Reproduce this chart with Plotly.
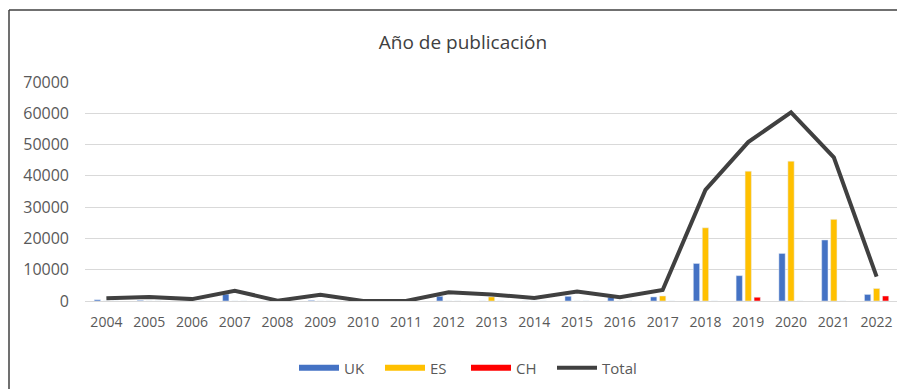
import plotly.graph_objects as go

years = [str(y) for y in range(2004, 2023)]
uk = [400, 200, 0, 2200, 0, 200, 0, 0, 1500, 0, 0, 1500, 1200, 1300, 12000, 8100, 15200, 19500, 2100]
es = [0, 0, 0, 0, 0, 0, 0, 0, 0, 1300, 0, 0, 0, 1600, 23400, 41500, 44700, 26100, 4000]
ch = [0, 0, 0, 0, 0, 0, 0, 0, 0, 0, 0, 0, 0, 0, 0, 1200, 0, 0, 1600]
total = [900, 1300, 600, 3300, 100, 2000, 0, 0, 2800, 2100, 1000, 3000, 1200, 3500, 35500, 50800, 60300, 45900, 7800]
yticks = [0, 10000, 20000, 30000, 40000, 50000, 60000, 70000]

GRAY = "#595959"
FONT = "Open Sans"
colors = {"UK": "#4472C4", "ES": "#FFC000", "CH": "#FF0000"}

fig = go.Figure()
for name, vals in [("UK", uk), ("ES", es), ("CH", ch)]:
    fig.add_trace(go.Bar(x=years, y=vals, name=name, marker_color=colors[name],
                         legendgroup=name, showlegend=False))
fig.add_trace(go.Scatter(x=years, y=total, name="Total", mode="lines",
                         line=dict(color="#404040", width=4), legendrank=1004))
# legend swatches (wide rectangles like the original)
for i, name in enumerate(["UK", "ES", "CH"]):
    fig.add_trace(go.Scatter(x=[None], y=[None], name=name, mode="lines",
                             line=dict(color=colors[name], width=6),
                             legendgroup=name, legendrank=1001 + i))

# browser body adds 8px offset; work in screenshot coordinates minus offset
OFF = 8
W, H = 905 - OFF, 389 - OFF
L, R, T, B = 85 - OFF, 7, 82 - OFF, 389 - 301
pw, ph = W - L - R, H - T - B
px = lambda v: (v - OFF - L) / pw
py = lambda v: (H - B - (v - OFF)) / ph

fig.update_layout(
    width=W, height=H,
    margin=dict(l=L, r=R, t=T, b=B, autoexpand=False),
    paper_bgcolor="white", plot_bgcolor="white",
    font=dict(family=FONT, color=GRAY, size=14),
    title=dict(text="Año de publicación", xref="container", yref="container",
               x=(463 - OFF) / W, xanchor="center", y=(H - (42 - OFF)) / H, yanchor="middle",
               font=dict(family=FONT, size=19, color="#404040")),
    barmode="group", bargap=0.37, bargroupgap=0.3,
    showlegend=True,
    legend=dict(orientation="h", x=px(466), xanchor="center", y=py(368), yanchor="middle",
                font=dict(family=FONT, size=15, color=GRAY), traceorder="normal",
                itemwidth=40, entrywidth=31),
    xaxis=dict(type="category", showgrid=False, showline=False, ticks="",
               ticklabelstandoff=11,
               tickfont=dict(family=FONT, size=14, color=GRAY)),
    yaxis=dict(range=[0, 70000], tickvals=yticks, ticktext=[str(v) for v in yticks],
               showgrid=True, gridcolor="#D9D9D9", gridwidth=1,
               zeroline=True, zerolinecolor="#D9D9D9", zerolinewidth=1,
               showline=False, ticks="", ticklabelstandoff=15,
               tickfont=dict(family=FONT, size=16, color=GRAY)),
    shapes=[
        dict(type="line", xref="paper", yref="paper", x0=px(9), x1=px(9), y0=py(420), y1=py(10),
             line=dict(color="#404040", width=1.5)),
        dict(type="line", xref="paper", yref="paper", x0=px(9), x1=px(920), y0=py(10), y1=py(10),
             line=dict(color="#404040", width=1.5)),
    ],
)

fig.write_html("out.html")
